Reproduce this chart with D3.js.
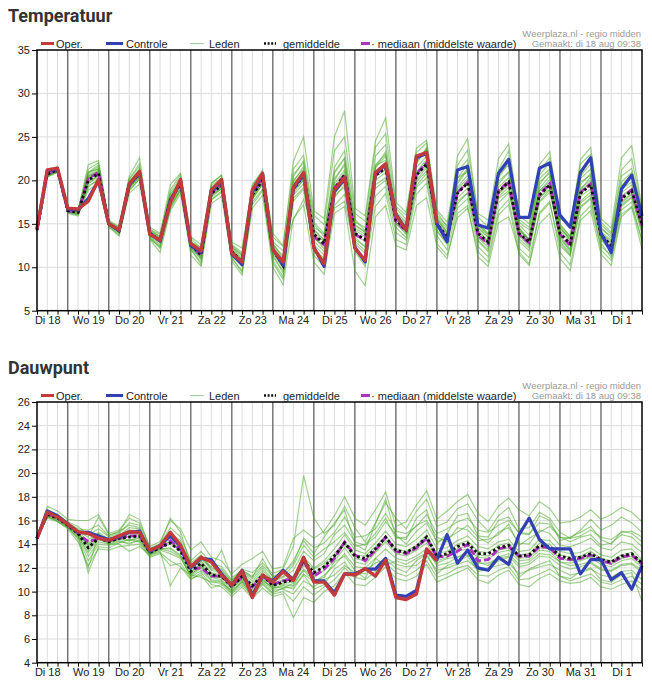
<!DOCTYPE html>
<html><head><meta charset="utf-8">
<script src="https://cdn.jsdelivr.net/npm/d3@7"></script>
<style>body{margin:0;background:#fff;} svg{display:block;font-family:"Liberation Sans",Arial,sans-serif;}</style>
</head><body><svg id="c" width="652" height="689"></svg>
<script>
const startTime = new Date(2020, 7, 18, 6, 0);
const endTime = new Date(2020, 8, 2, 0, 0);
const dayLabels = ["Di 18","Wo 19","Do 20","Vr 21","Za 22","Zo 23","Ma 24","Di 25","Wo 26","Do 27","Vr 28","Za 29","Zo 30","Ma 31","Di 1"];
const tempTicks = [5,10,15,20,25,30,35];
const dewTicks = [4,6,8,10,12,14,16,18,20,22,24,26];
const legendLabels = ["Oper.","Controle","Leden","gemiddelde","· mediaan (middelste waarde)"];
const creditLines = ["Weerplaza.nl - regio midden","Gemaakt: di 18 aug 09:38"];

// ---------- Temperatuur ----------
const tempOper = [14.4,21.2,21.4, 16.8,16.7,17.6,20.1, 15.0,14.3,19.6,21.0, 13.8,13.1,17.4,20.1, 12.7,11.9,18.9,20.1, 11.6,10.6,18.9,20.8, 12.0,10.6,19.2,20.9, 12.2,10.4,18.9,20.35, 12.2,10.8,20.9,21.9, 16.0,14.3,22.8,23.2, 15.05,
  null,null,null,null,null,null,null,null,null,null,null,null,null,null,null,null,null,null,null,null];
const tempCtrl = [14.4,21.1,21.3, 16.7,16.6,17.9,20.0, 15.0,14.2,19.5,20.9, 13.9,13.0,17.6,19.9, 12.5,11.7,18.8,20.0, 11.5,10.3,18.7,20.7, 12.1,10.2,19.0,20.7, 12.3,10.1,18.7,20.2, 12.3,10.6,20.8,21.8, 16.1,14.3,22.6,23.1, 15.0,12.95,21.2,21.6, 14.9,14.5,20.8,22.4, 15.75,15.75,21.4,22.0, 16.0,14.6,20.9,22.6, 13.9,11.7,19.0,20.6, 15.9];
const tempMean = [14.3,20.7,21.2, 16.5,16.3,20.0,20.8, 15.0,14.2,19.5,20.8, 13.9,13.1,17.7,19.6, 12.6,11.4,18.5,19.4, 11.8,10.6,18.3,20.0, 12.0,10.2,19.0,20.5, 13.8,12.7,19.0,20.6, 13.9,13.2,20.6,21.4, 15.4,14.3,20.6,21.9, 15.0,13.5,18.5,19.7, 13.9,12.9,18.7,19.8, 13.9,12.9,18.3,19.5, 13.9,12.7,18.5,19.5, 13.7,12.5,17.9,18.8, 14.9];
const tempMedian = [14.3,20.8,21.2, 16.5,16.3,20.2,20.9, 15.0,14.2,19.6,20.8, 13.9,13.1,17.8,19.7, 12.5,11.4,18.6,19.5, 11.8,10.5,18.4,20.1, 12.0,10.2,19.1,20.6, 13.6,12.6,19.1,20.7, 13.8,13.1,20.7,21.5, 15.3,14.2,20.8,22.0, 15.0,13.3,18.6,19.8, 13.7,12.7,18.8,19.9, 13.8,12.8,18.4,19.6, 13.8,12.5,18.6,19.6, 13.6,12.4,18.0,18.9, 14.8];
const tempMembers = [
 [14.2,20.9,21.5, 16.6,16.2,20.8,21.6, 15.3,14.5,19.8,21.3, 14.1,13.2,18.4,20.0, 12.4,11.0,19.0,19.9, 11.5,10.1,18.9,20.6, 12.8,11.0,20.4,22.3, 15.2,13.9,21.5,23.4, 15.5,14.2,22.8,24.1, 16.4,15.2,22.6,23.5, 16.0,14.8,21.0,22.4, 15.1,13.9,20.6,21.8, 14.6,13.2,19.1,20.5, 14.8,13.6,20.2,21.3, 14.9,13.8,20.5,21.4, 16.2],
 [14.4,20.5,21.0, 16.3,16.0,19.2,20.2, 14.8,13.8,18.9,20.1, 13.5,12.4,16.9,18.8, 12.0,10.6,17.8,18.6, 11.0,9.6,17.2,18.8, 10.8,8.9,17.6,19.0, 12.1,11.0,17.1,18.4, 12.0,10.9,18.2,19.3, 14.0,13.1,19.2,20.3, 13.6,12.0,16.8,17.9, 12.4,11.2,16.5,17.8, 12.2,11.1,16.1,17.4, 12.5,11.3,16.8,17.9, 12.0,10.8,16.1,17.0, 13.2],
 [14.3,21.0,21.3, 16.7,16.5,21.3,22.0, 15.1,14.0,20.2,21.9, 14.4,13.5,18.9,20.7, 13.3,12.2,19.2,20.0, 12.4,11.3,19.0,20.8, 12.5,10.8,20.0,21.3, 14.4,13.0,20.2,21.7, 13.2,12.4,21.4,22.8, 16.8,15.5,22.1,23.6, 16.4,14.6,20.3,21.0, 13.1,12.0,19.6,20.9, 15.2,14.3,20.6,22.0, 15.0,13.5,19.8,20.6, 13.2,11.8,17.0,18.0, 14.2],
 [14.2,20.6,21.0, 16.4,16.2,19.6,20.4, 14.9,14.3,19.1,20.5, 13.7,12.9,17.2,19.0, 12.8,11.6,18.0,19.1, 12.1,10.8,17.8,19.6, 11.2,9.6,18.5,20.1, 13.0,11.8,18.0,19.5, 14.5,13.8,20.0,20.9, 15.1,13.9,19.8,21.1, 14.1,12.8,17.3,18.6, 14.5,13.4,17.9,18.8, 13.0,11.9,17.5,18.6, 13.6,12.1,17.4,18.3, 14.1,13.1,18.6,19.5, 15.0],
 [14.4,20.8,21.3, 16.5,16.4,20.5,21.0, 15.2,14.6,20.1,21.6, 14.3,13.8,18.6,20.4, 13.0,12.0,19.6,20.6, 12.6,11.7,19.4,21.2, 13.9,12.5,22.2,25.0, 16.5,15.6,25.0,28.0, 16.8,15.9,24.5,27.2, 17.5,16.3,23.2,24.3, 15.5,14.1,22.8,24.8, 15.8,14.6,21.2,23.4, 14.5,13.1,21.0,22.6, 15.6,14.8,21.9,23.0, 15.2,14.0,21.2,22.5, 16.5],
 [14.3,20.4,20.9, 16.2,15.9,18.9,19.6, 14.6,13.6,18.5,19.6, 13.2,11.7,16.5,18.5, 11.4,10.1,17.3,18.2, 10.7,9.1,16.8,18.3, 10.0,8.0,15.6,17.2, 10.6,9.2,16.2,17.0, 9.6,7.9,15.8,17.1, 12.5,12.0,17.1,18.0, 12.3,11.0,16.2,17.1, 11.2,10.1,15.1,15.8, 11.8,10.4,15.0,16.2, 11.0,9.6,15.4,16.5, 11.5,10.2,15.8,16.9, 12.1],
 [14.3,20.7,21.1, 16.6,16.3,20.2,21.1, 15.0,14.2,19.3,20.4, 14.0,13.3,17.4,19.3, 12.7,11.2,18.7,19.6, 11.9,10.7,18.6,20.3, 12.3,10.4,19.3,20.2, 14.0,12.9,19.6,21.2, 14.9,14.1,21.7,22.3, 15.6,14.8,21.0,22.4, 15.2,13.7,19.6,21.2, 14.6,13.5,19.9,21.0, 14.4,13.0,18.8,19.8, 14.2,12.9,18.9,20.4, 14.0,12.7,18.2,19.1, 15.3],
 [14.4,20.9,21.4, 16.5,16.1,19.9,20.5, 15.0,14.1,19.7,21.0, 13.6,12.6,17.9,19.8, 12.2,10.9,18.2,19.2, 11.3,10.2,17.9,19.5, 11.6,9.9,18.3,19.6, 13.5,12.1,18.6,20.0, 13.0,11.9,19.5,20.3, 15.9,14.6,20.9,22.0, 15.7,14.0,19.0,20.2, 14.3,12.9,18.1,19.2, 14.0,12.6,19.5,21.1, 13.5,11.8,17.6,18.7, 13.3,12.0,17.4,18.4, 14.6],
 [14.2,20.6,21.2, 16.4,16.4,20.6,21.4, 14.9,14.0,19.0,20.9, 14.2,13.4,17.0,19.1, 12.5,11.6,18.9,20.1, 12.3,11.4,18.6,19.8, 12.9,11.9,15.5,17.8, 14.6,13.8,20.8,22.5, 15.2,14.6,21.8,23.0, 15.8,14.1,21.9,23.8, 14.7,13.2,19.2,20.6, 14.2,13.0,20.3,22.1, 15.5,14.6,20.2,21.3, 14.5,13.4,19.5,20.8, 14.6,13.3,19.4,20.7, 15.9],
 [14.3,20.8,21.1, 16.6,16.5,20.9,21.8, 15.1,14.4,19.6,20.7, 13.9,13.0,17.5,19.5, 12.3,11.3,18.4,19.3, 11.6,10.4,18.1,19.9, 11.9,10.1,19.2,20.8, 13.4,12.4,18.5,19.8, 13.7,13.0,20.4,21.2, 15.2,14.4,20.4,21.7, 15.4,13.9,18.0,19.1, 13.6,12.6,18.4,19.5, 13.6,12.4,17.6,18.9, 14.4,13.2,19.1,20.0, 13.4,12.2,17.6,18.5, 14.4],
 [14.4,20.5,21.2, 16.4,16.2,20.3,20.9, 15.2,14.3,19.4,20.6, 13.8,13.1,18.1,19.9, 12.6,11.5,18.6,19.5, 12.0,10.9,18.4,20.1, 12.2,10.6,19.6,21.0, 14.2,13.2,19.3,20.9, 14.3,13.5,21.0,21.9, 15.0,13.8,20.0,21.5, 14.6,13.3,18.7,19.9, 13.4,12.3,18.5,19.6, 13.3,12.2,18.0,19.3, 13.2,12.0,18.2,19.0, 13.6,12.6,18.1,18.9, 14.8],
 [14.3,20.9,21.3, 16.7,16.6,21.8,22.3, 15.4,14.7,20.5,22.6, 14.6,13.9,19.5,20.8, 13.5,12.6,19.7,20.6, 12.9,12.2,19.5,21.0, 13.5,12.4,21.3,22.9, 16.0,14.9,23.4,25.0, 16.2,15.3,23.8,25.4, 17.0,16.0,23.7,24.6, 16.6,15.2,21.7,23.5, 16.2,15.4,22.5,24.2, 16.0,15.0,21.8,23.3, 15.9,14.7,22.4,23.8, 15.6,14.5,22.6,24.0, 16.8],
 [14.2,20.4,21.0, 16.3,16.1,19.4,20.0, 14.7,13.7,18.8,20.2, 13.4,12.2,16.7,18.9, 12.1,10.3,17.7,18.8, 11.1,9.4,17.5,19.0, 10.5,8.6,17.9,19.2, 11.4,10.0,16.8,17.6, 11.8,10.1,17.0,18.5, 13.2,12.6,18.4,19.7, 12.7,11.4,15.7,16.8, 11.8,10.6,16.0,17.2, 11.5,10.2,16.3,17.6, 11.7,10.3,15.9,17.1, 12.4,11.4,16.6,17.5, 12.9],
 [14.4,21.0,21.6, 16.8,16.5,21.0,21.3, 15.0,14.0,19.9,21.2, 13.3,12.3,17.8,19.7, 12.9,11.9,18.9,19.8, 11.4,10.3,18.3,20.2, 12.6,11.3,19.8,21.6, 12.6,11.4,19.9,22.0, 14.8,14.0,20.9,21.6, 16.0,14.7,21.5,22.8, 14.3,12.6,19.8,21.4, 14.9,13.8,19.2,20.3, 13.8,12.8,18.8,20.1, 12.8,11.4,18.8,19.8, 14.4,13.6,19.0,19.8, 15.6],
 [14.3,20.6,21.0, 16.5,16.3,19.7,20.6, 15.1,14.5,19.2,20.3, 14.0,13.1,17.6,19.4, 12.3,11.1,18.3,19.0, 12.2,11.1,18.0,19.7, 11.4,9.3,18.8,20.0, 13.3,12.5,18.3,19.2, 12.7,11.6,19.1,20.0, 14.6,13.4,19.4,20.8, 14.9,13.5,17.6,18.5, 13.0,11.8,17.4,18.6, 14.2,13.2,18.0,19.0, 13.0,11.6,17.0,18.0, 12.8,11.1,17.2,18.1, 13.8],
 [14.3,20.7,21.4, 16.6,16.4,20.4,21.2, 14.8,14.1,19.5,20.9, 14.1,13.6,18.2,20.1, 12.9,12.3,19.4,20.3, 12.5,11.5,18.8,20.5, 12.1,10.9,20.7,22.0, 15.0,13.5,21.0,22.6, 13.5,12.3,21.5,23.3, 16.2,15.0,22.4,23.1, 15.8,14.4,20.2,21.9, 14.8,13.7,21.0,22.6, 14.9,13.7,19.8,20.8, 14.7,13.1,20.5,21.9, 13.9,12.9,19.8,20.9, 15.2]
];

// ---------- Dauwpunt ----------
const dewOper = [14.5,16.7,16.3, 15.7,15.05,14.9,14.5, 14.35,14.7,15.05,15.0, 13.5,13.85,15.0,13.9, 12.1,12.9,12.5,11.4, 10.55,11.75,9.5,11.4, 10.8,11.7,10.95,12.9, 10.8,10.8,9.7,11.5, 11.4,11.95,11.3,12.65, 9.5,9.33,9.8,13.6, 12.6,
  null,null,null,null,null,null,null,null,null,null,null,null,null,null,null,null,null,null,null,null];
const dewCtrl = [14.5,16.8,16.4, 15.7,15.0,15.0,14.7, 14.4,14.6,15.0,15.1, 13.4,13.9,14.7,13.8, 12.0,12.8,12.7,11.5, 10.5,11.8,9.7,11.3, 10.9,11.8,11.0,12.8, 10.9,10.9,9.9,11.5, 11.5,11.9,11.9,12.8, 9.7,9.6,10.1,13.5, 12.7,14.8,12.4,13.5, 12.0,11.8,12.9,12.3, 14.8,16.2,14.4,13.6, 13.6,13.6,11.5,12.7, 12.7,11.0,11.6,10.2, 12.2];
const dewMean = [14.5,16.5,16.2, 15.6,14.9,13.7,14.5, 14.2,14.5,14.6,14.7, 13.3,13.7,14.1,13.4, 11.7,12.4,11.4,11.3, 10.4,11.3,10.5,11.4, 10.5,10.8,11.0,12.6, 11.6,12.1,13.0,14.1, 13.0,12.8,13.6,14.6, 13.5,13.3,13.8,14.6, 13.0,13.2,13.8,14.1, 13.2,13.2,13.7,13.9, 13.0,13.1,13.9,13.8, 13.0,12.8,12.9,13.2, 12.7,12.5,13.0,13.2, 12.4];
const dewMedian = [14.5,16.6,16.2, 15.6,14.9,14.2,14.5, 14.3,14.5,14.7,14.7, 13.4,13.7,14.3,13.5, 11.9,12.0,11.3,11.3, 10.5,11.2,10.4,11.3, 10.6,10.9,11.1,12.5, 11.3,11.9,12.8,14.2, 13.1,12.6,13.5,14.6, 13.4,13.2,13.7,14.5, 12.9,13.0,13.4,14.0, 12.6,12.7,13.6,13.8, 13.0,13.0,13.8,13.7, 12.8,12.7,12.8,13.1, 12.6,12.4,12.9,13.1, 12.3];
const dewMembers = [
 [14.5,16.6,16.4, 15.8,15.2,14.1,15.0, 14.4,14.8,15.2,15.0, 13.5,13.9,14.6,13.9, 12.2,12.9,11.8,11.6, 10.7,11.6,10.9,11.8, 10.9,11.2,11.8,13.4, 12.6,13.2,14.8,15.6, 14.2,13.9,14.6,15.9, 14.8,14.0,15.1,15.8, 14.2,14.5,15.0,15.6, 14.6,14.1,15.0,15.4, 14.1,14.0,15.2,14.9, 13.9,13.8,14.1,14.5, 13.7,13.5,14.2,14.0, 13.3],
 [14.5,16.3,16.0, 15.4,14.6,12.6,14.0, 13.9,14.2,14.1,14.3, 13.1,13.5,13.2,12.8, 11.3,12.0,11.0,10.9, 10.0,10.9,9.9,10.8, 10.1,10.2,9.8,10.9, 10.4,11.0,11.4,12.2, 11.6,11.5,12.0,12.9, 12.3,12.1,12.2,13.0, 11.8,12.0,12.3,12.6, 11.9,12.0,12.2,12.4, 11.5,11.8,12.1,12.3, 11.8,11.4,11.6,11.9, 11.4,11.2,11.7,11.8, 11.0],
 [14.5,16.9,16.5, 15.9,15.5,14.8,15.3, 14.6,14.9,15.8,15.6, 13.6,14.0,15.4,14.6, 12.6,13.4,12.4,12.1, 11.0,11.9,11.6,12.4, 11.5,11.9,13.8,19.8, 16.2,14.9,15.6,17.2, 15.4,14.2,15.8,17.5, 16.2,15.3,16.8,17.8, 15.5,15.9,17.0,17.4, 16.0,15.1,16.4,17.1, 15.3,15.4,16.7,16.2, 15.0,14.5,15.2,16.1, 15.2,15.6,16.3,15.8, 15.0],
 [14.5,16.4,16.1, 15.5,14.7,13.3,14.4, 14.1,14.4,14.3,14.6, 13.2,13.6,13.7,13.1, 11.5,12.1,11.2,11.0, 10.2,11.1,10.2,11.0, 10.3,10.6,10.5,11.9, 11.2,11.8,12.6,13.7, 12.5,12.3,13.3,14.2, 13.2,13.0,13.5,14.1, 12.6,12.9,13.4,13.6, 12.9,12.8,13.3,13.5, 12.6,12.7,13.5,13.4, 12.5,12.4,12.6,12.9, 12.3,12.1,12.6,12.8, 12.0],
 [14.5,16.7,16.2, 15.6,14.8,11.6,13.8, 13.7,14.1,14.4,14.2, 13.0,13.3,12.6,12.1, 11.0,11.6,10.6,10.4, 9.6,10.4,9.4,10.3, 9.6,9.8,7.8,9.5, 9.1,10.0,10.5,11.6, 10.6,10.5,11.2,12.1, 11.1,10.9,11.3,12.3, 10.8,11.2,11.6,12.0, 11.0,10.7,11.4,11.8, 10.6,10.4,11.1,11.5, 10.9,10.7,10.8,11.2, 10.4,10.2,10.6,10.9, 10.1],
 [14.5,17.2,16.8, 16.1,16.0,16.0,16.5, 14.9,15.2,16.2,15.8, 13.8,14.2,16.0,15.3, 13.5,14.2,12.9,12.6, 11.5,12.3,12.8,13.4, 11.9,12.1,14.5,15.2, 14.5,15.1,16.4,18.0, 16.2,15.6,16.9,18.4, 15.5,15.9,17.3,18.5, 16.1,16.8,17.6,18.2, 16.6,15.9,17.2,17.9, 16.9,16.4,17.6,17.0, 15.8,15.9,16.3,16.9, 16.1,16.5,17.1,16.7, 15.9],
 [14.5,16.5,16.3, 15.7,15.0,13.9,14.7, 14.3,14.6,14.9,14.9, 13.4,13.8,14.3,13.6, 11.9,12.6,11.6,11.4, 10.5,11.4,10.7,11.6, 10.7,11.0,11.3,12.9, 12.0,12.6,13.6,14.8, 13.5,13.2,14.1,15.1, 14.0,13.8,14.4,15.2, 13.6,13.7,14.3,14.7, 13.8,13.6,14.2,14.4, 13.4,13.5,14.4,14.3, 13.4,13.2,13.3,13.7, 13.1,12.9,13.5,13.6, 12.7],
 [14.5,16.4,15.9, 15.3,14.2,12.2,13.6, 13.5,13.8,13.9,14.0, 12.9,13.2,12.2,12.4, 11.1,11.4,10.3,10.6, 9.8,10.6,9.6,10.6, 9.8,10.0,9.2,10.4, 9.7,10.4,11.0,12.0, 11.2,11.0,11.7,12.4, 11.6,11.3,11.8,12.6, 11.2,11.5,12.0,12.2, 11.4,11.3,11.8,12.1, 11.0,11.1,11.5,11.9, 11.3,10.9,11.2,11.5, 10.8,10.6,11.0,11.3, 10.6],
 [14.5,16.6,16.3, 15.7,15.1,14.6,16.3, 14.8,15.0,16.5,16.1, 13.7,14.0,16.2,15.0, 12.3,12.7,12.1,13.5, 11.2,11.8,11.2,12.8, 11.2,11.5,12.6,14.3, 13.2,14.6,15.8,16.9, 14.0,13.5,15.7,17.8, 14.6,14.4,16.2,16.9, 14.0,14.9,16.4,16.6, 14.7,14.6,16.0,16.3, 14.9,14.8,16.4,16.0, 14.3,14.6,15.0,15.5, 14.4,14.0,15.1,14.9, 14.2],
 [14.5,16.8,16.4, 15.6,14.8,13.0,14.2, 14.0,14.3,14.0,14.4, 13.2,13.6,13.4,12.9, 11.4,12.2,11.3,11.2, 10.3,11.0,10.0,11.1, 10.2,10.5,10.2,11.5, 10.8,11.4,12.2,13.2, 12.1,12.0,12.8,13.6, 12.8,12.6,13.0,13.6, 12.2,12.4,12.9,13.1, 12.4,12.4,12.8,13.0, 12.1,12.3,13.0,12.9, 12.2,11.9,12.1,12.4, 11.8,11.7,12.2,12.3, 11.6],
 [14.5,16.2,15.9, 15.4,14.5,14.4,14.9, 14.1,14.7,15.4,15.3, 13.3,13.8,14.8,14.1, 12.0,13.0,11.9,11.8, 10.8,11.7,11.1,12.0, 11.0,11.3,12.2,13.9, 12.9,13.6,14.2,15.0, 13.8,14.0,14.9,16.2, 14.5,14.6,15.6,16.0, 14.6,14.2,15.4,15.2, 14.3,14.4,14.8,15.7, 13.9,14.5,15.0,15.5, 14.6,14.2,14.6,14.8, 13.9,14.1,14.8,14.6, 13.8],
 [14.5,16.5,16.1, 15.5,14.9,13.5,14.6, 14.2,14.4,14.7,14.8, 13.3,13.7,14.0,13.5, 11.6,12.5,11.5,11.3, 10.4,11.2,10.4,11.3, 10.5,10.7,10.8,12.2, 11.5,12.2,12.9,14.0, 12.8,12.6,13.4,14.4, 13.4,13.2,13.6,14.4, 12.9,13.1,13.6,13.9, 13.1,13.0,13.5,13.7, 12.8,12.9,13.7,13.6, 12.8,12.6,12.7,13.0, 12.5,12.3,12.8,13.0, 12.2],
 [14.5,16.6,16.2, 15.6,14.9,14.0,14.6, 14.2,14.5,14.3,14.5, 13.2,13.6,13.6,13.0, 11.2,11.8,10.9,10.8, 9.9,10.8,9.8,10.7, 9.9,10.3,10.4,11.4, 10.2,10.6,11.9,12.5, 11.2,11.8,12.4,12.7, 12.0,11.6,12.6,13.2, 11.5,12.2,12.5,13.0, 11.7,11.9,12.6,12.9, 11.2,11.9,12.3,12.6, 11.3,11.1,11.7,12.0, 11.0,10.8,11.4,11.6, 9.2],
 [14.5,16.7,16.4, 15.8,15.3,15.2,15.6, 14.7,15.1,15.6,15.4, 13.5,13.9,14.9,14.3, 12.4,13.1,12.0,11.9, 10.9,11.8,11.3,12.2, 11.3,11.6,12.4,14.5, 13.7,14.1,15.0,16.3, 14.6,14.7,15.3,16.6, 15.1,14.9,15.5,16.5, 14.9,15.3,15.9,16.2, 15.2,15.0,15.6,16.0, 15.0,14.9,15.8,15.7, 14.6,14.5,14.7,15.2, 14.6,14.4,15.0,15.1, 14.6],
 [14.5,16.4,16.2, 15.6,15.0,13.8,14.5, 14.3,14.6,14.6,14.7, 13.4,13.7,14.2,13.4, 11.7,12.3,11.3,11.2, 10.4,11.2,10.5,11.3, 10.6,10.9,11.1,12.5, 11.9,12.4,13.2,14.2, 13.1,13.0,13.8,14.7, 13.6,13.4,13.9,14.8, 13.2,13.4,14.0,14.3, 13.4,13.3,13.9,14.1, 13.1,13.2,14.1,14.0, 13.1,12.9,13.0,13.4, 12.8,12.6,13.1,13.3, 12.5],
 [14.5,16.3,16.0, 15.5,14.4,12.0,14.8, 14.0,14.0,13.4,13.8, 13.1,13.4,10.5,12.0, 11.4,11.2,10.8,10.7, 10.1,10.8,9.6,10.9, 10.4,10.3,10.7,11.8, 10.9,11.2,12.5,13.0, 11.8,11.1,12.8,12.2, 12.6,12.3,12.8,13.3, 12.4,12.8,12.9,13.4, 12.5,12.2,12.9,13.2, 12.3,12.5,13.2,13.1, 12.5,12.2,12.3,12.5, 11.9,11.8,12.3,12.4, 11.8]
];

const times = d3.range(tempMean.length).map(i => d3.timeHour.offset(startTime, 6 * i));
const svg = d3.select("#c");
const x = d3.scaleTime().domain([startTime, endTime]).range([37, 642]);
const gridTimes = d3.timeHour.every(6).range(d3.timeHour.offset(startTime, 6), endTime);
const allTickTimes = d3.timeHour.every(6).range(startTime, d3.timeHour.offset(endTime, 1));
const noonTimes = dayLabels.map((d, k) => d3.timeHour.offset(new Date(2020, 7, 18, 12), 24 * k));

const COL = {oper: "#c13a3c", ctrl: "#3140b5", member: "#44a520", mean: "#111", median: "#b22fc4"};

function drawChart(top, title, domain, ticks, members, median, mean, ctrl, oper) {
  const g = svg.append("g").attr("transform", `translate(0,${top})`);
  const y = d3.scaleLinear().domain(domain).range([310.7, 50]);
  const pTop = 50, pBot = 310.7, pL = 37, pR = 642;

  g.append("text").attr("x", 8).attr("y", 22).text(title)
    .attr("font-family", "Roboto, sans-serif").attr("font-weight", 700).attr("font-size", 18).attr("fill", "#333");

  creditLines.forEach((t, k) => g.append("text").attr("x", 641).attr("y", 37 + k * 10).attr("text-anchor", "end")
    .attr("font-size", 9.5).attr("fill", "#9a9a9a").text(t));

  g.append("g").selectAll("line").data(ticks.filter(t => t !== domain[0] && t !== domain[1])).join("line")
    .attr("x1", pL).attr("x2", pR).attr("y1", d => y(d)).attr("y2", d => y(d))
    .attr("stroke", "#dcdcdc").attr("stroke-width", 1);
  g.append("g").selectAll("line").data(gridTimes).join("line")
    .attr("x1", d => x(d)).attr("x2", d => x(d)).attr("y1", pTop).attr("y2", pBot)
    .attr("stroke", d => d.getHours() === 0 ? "#555" : "#dcdcdc")
    .attr("stroke-width", d => d.getHours() === 0 ? 1.2 : 1);

  const line = d3.line().defined(d => d != null).x((d, i) => x(times[i])).y(d => y(d));

  g.append("g").selectAll("path").data(members).join("path")
    .attr("d", line).attr("fill", "none").attr("stroke", COL.member)
    .attr("stroke-width", 1.2).attr("stroke-opacity", 0.5);
  g.append("path").attr("d", line(median)).attr("fill", "none").attr("stroke", COL.median)
    .attr("stroke-width", 2.8).attr("stroke-dasharray", "7,3");
  g.append("path").attr("d", line(mean)).attr("fill", "none").attr("stroke", COL.mean)
    .attr("stroke-width", 2.8).attr("stroke-dasharray", "2.6,2.6");
  g.append("path").attr("d", line(ctrl)).attr("fill", "none").attr("stroke", COL.ctrl)
    .attr("stroke-width", 3.2).attr("stroke-linejoin", "round");
  g.append("path").attr("d", line(oper)).attr("fill", "none").attr("stroke", COL.oper)
    .attr("stroke-width", 3.4).attr("stroke-linejoin", "round");

  g.append("rect").attr("x", pL).attr("y", pTop).attr("width", pR - pL).attr("height", pBot - pTop)
    .attr("fill", "none").attr("stroke", "#000").attr("stroke-width", 1.5);

  const ya = g.append("g").attr("transform", `translate(${pL},0)`)
    .call(d3.axisLeft(y).tickValues(ticks).tickSize(5).tickPadding(2).tickFormat(d3.format("d")));
  ya.select(".domain").remove();
  ya.selectAll("text").attr("font-size", 11).attr("fill", "#222").attr("font-family", '"Liberation Sans", Arial, sans-serif');
  ya.selectAll("line").attr("stroke", "#000");

  const xa = g.append("g").attr("transform", `translate(0,${pBot})`)
    .call(d3.axisBottom(x).tickValues(allTickTimes).tickSize(4).tickFormat(""));
  xa.select(".domain").remove();
  xa.selectAll("line").attr("stroke", "#000");
  const xl = g.append("g").attr("transform", `translate(0,${pBot})`)
    .call(d3.axisBottom(x).tickValues(noonTimes).tickSize(0).tickPadding(6).tickFormat((d, k) => dayLabels[k]));
  xl.select(".domain").remove();
  xl.selectAll("text").attr("font-size", 11).attr("fill", "#222").attr("font-family", '"Liberation Sans", Arial, sans-serif');

  const lg = g.append("g").attr("font-size", 11).attr("fill", "#222");
  const ly = 43.5;
  lg.append("line").attr("x1", 41).attr("x2", 54).attr("y1", ly).attr("y2", ly).attr("stroke", COL.oper).attr("stroke-width", 3);
  lg.append("text").attr("x", 56).attr("y", ly + 4).text(legendLabels[0]);
  lg.append("line").attr("x1", 106).attr("x2", 123).attr("y1", ly).attr("y2", ly).attr("stroke", COL.ctrl).attr("stroke-width", 3);
  lg.append("text").attr("x", 126).attr("y", ly + 4).text(legendLabels[1]);
  lg.append("line").attr("x1", 190).attr("x2", 204).attr("y1", ly).attr("y2", ly).attr("stroke", "#a9cf9f").attr("stroke-width", 1);
  lg.append("text").attr("x", 209).attr("y", ly + 4).text(legendLabels[2]);
  lg.append("line").attr("x1", 264).attr("x2", 276).attr("y1", ly).attr("y2", ly).attr("stroke", "#111").attr("stroke-width", 2.5).attr("stroke-dasharray", "2,1.6");
  lg.append("text").attr("x", 283).attr("y", ly + 4).text(legendLabels[3]);
  lg.append("line").attr("x1", 361).attr("x2", 370).attr("y1", ly).attr("y2", ly).attr("stroke", COL.median).attr("stroke-width", 3);
  lg.append("text").attr("x", 371).attr("y", ly + 4).text(legendLabels[4]);
}

drawChart(0, "Temperatuur", [5, 35], tempTicks, tempMembers, tempMedian, tempMean, tempCtrl, tempOper);
drawChart(352, "Dauwpunt", [4, 26], dewTicks, dewMembers, dewMedian, dewMean, dewCtrl, dewOper);
</script></body></html>
